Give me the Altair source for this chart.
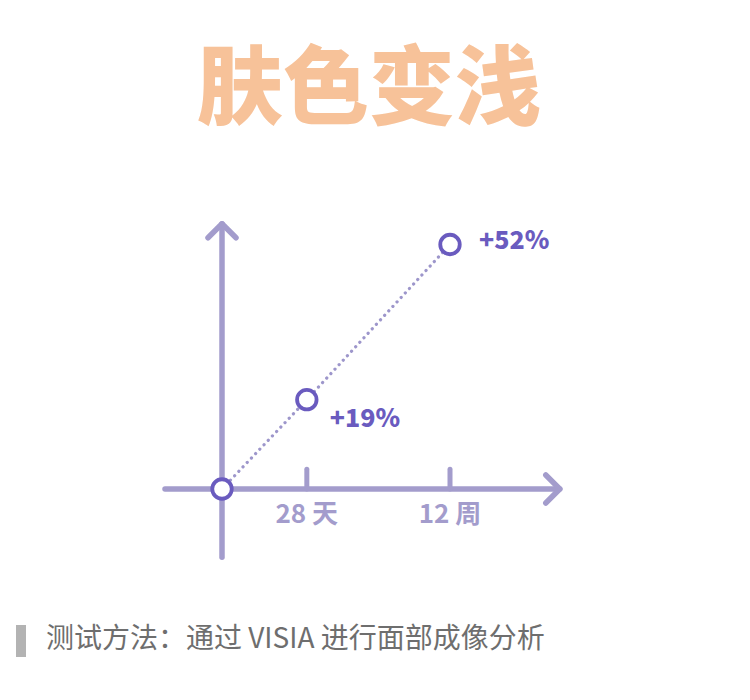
import altair as alt
import pandas as pd

# ---- data ----
stage_days = [0, 28, 84]          # x position (days)
stage_values = [0, 19, 52]        # % improvement
value_labels = ["", "+19%", "+52%"]
tick_days = [28, 84]
tick_labels = ["28 天", "12 周"]
title_text = "肤色变浅"
footer_text = "测试方法：通过 VISIA 进行面部成像分析"

# axis extents in data units
x_axis_ext = [-18, 130]
y_axis_ext = [-14.5, 56.4]
tick_height = 4.2

AXIS = "#a39ccc"
DOT = "#9d96cb"
RING = "#6a5bbf"
TITLE = "#f7c299"
FONT = "Noto Sans CJK SC"

pts = pd.DataFrame({"d": stage_days, "v": stage_values, "lab": value_labels})
ticks = pd.DataFrame({"d": tick_days, "lab": tick_labels, "v0": [0, 0], "v1": [tick_height] * 2})
xaxis_df = pd.DataFrame({"d0": [x_axis_ext[0]], "d1": [x_axis_ext[1]], "v": [0]})
yaxis_df = pd.DataFrame({"d": [0], "v0": [y_axis_ext[0]], "v1": [y_axis_ext[1]]})
xarrow_df = pd.DataFrame({"d": [x_axis_ext[1]], "v": [0]})
yarrow_df = pd.DataFrame({"d": [0], "v": [y_axis_ext[1]]})
text_df = pd.DataFrame({"t": [title_text], "f": [footer_text]})

xs = alt.Scale(type="pow", exponent=0.9, domain=[0, 84], range=[214, 442], zero=False, nice=False)
ys = alt.Scale(type="linear", domain=[0, 52], range=[481, 236.5], zero=False, nice=False)

X = lambda f: alt.X(f, type="quantitative", scale=xs, axis=None)
Y = lambda f: alt.Y(f, type="quantitative", scale=ys, axis=None)

x_axis = alt.Chart(xaxis_df).mark_rule(color=AXIS, strokeWidth=5.5, strokeCap="round").encode(
    x=X("d0"), x2="d1", y=Y("v"))
y_axis = alt.Chart(yaxis_df).mark_rule(color=AXIS, strokeWidth=5.5, strokeCap="round").encode(
    x=X("d"), y=Y("v0"), y2="v1")
tick_rules = alt.Chart(ticks).mark_rule(color=AXIS, strokeWidth=5, strokeCap="round").encode(
    x=X("d"), y=Y("v0"), y2="v1")
tick_text = alt.Chart(ticks).mark_text(
    color=AXIS, font=FONT, fontSize=26, fontWeight="bold", dy=26, baseline="middle", align="center"
).encode(x=X("d"), y=Y("v0"), text="lab")

x_arrow = alt.Chart(xarrow_df).mark_point(
    shape="M -1 -1 L 0 0 L -1 1", size=784, filled=False, fillOpacity=0,
    color=AXIS, strokeWidth=5.5, strokeCap="round", strokeJoin="round", opacity=1
).encode(x=X("d"), y=Y("v"))
y_arrow = alt.Chart(yarrow_df).mark_point(
    shape="M -1 1 L 0 0 L 1 1", size=784, filled=False, fillOpacity=0,
    color=AXIS, strokeWidth=5.5, strokeCap="round", strokeJoin="round", opacity=1
).encode(x=X("d"), y=Y("v"))

line = alt.Chart(pts).mark_line(
    color=DOT, strokeWidth=3.2, strokeDash=[0.1, 6], strokeCap="round"
).encode(x=X("d"), y=Y("v"), order="d:Q")

circles = alt.Chart(pts).mark_point(
    shape="circle", size=380, filled=True, fill="white", stroke=RING, strokeWidth=3.8, opacity=1
).encode(x=X("d"), y=Y("v"))

val_19 = alt.Chart(pts).transform_filter(alt.datum.v == 19).mark_text(
    color=RING, font=FONT, fontSize=25, fontWeight=900, align="left", baseline="middle", dx=23, dy=19
).encode(x=X("d"), y=Y("v"), text="lab")
val_52 = alt.Chart(pts).transform_filter(alt.datum.v == 52).mark_text(
    color=RING, font=FONT, fontSize=25, fontWeight=900, align="left", baseline="middle", dx=29, dy=-4
).encode(x=X("d"), y=Y("v"), text="lab")

title = alt.Chart(text_df).mark_text(
    color=TITLE, font=FONT, fontSize=86, fontWeight=900, align="center", baseline="middle"
).encode(x=alt.value(361), y=alt.value(84), text="t")

footer_bar = alt.Chart(text_df).mark_rect(color="#b3b3b3").encode(
    x=alt.value(8), x2=alt.value(18), y=alt.value(617), y2=alt.value(649))
footer = alt.Chart(text_df).mark_text(
    color="#6e6e6e", font=FONT, fontSize=28, align="left", baseline="middle"
).encode(x=alt.value(38), y=alt.value(632), text="f")

chart = alt.layer(
    x_axis, y_axis, tick_rules, tick_text, x_arrow, y_arrow, line, circles,
    val_19, val_52, title, footer_bar, footer
).properties(
    width=734, height=684, autosize=alt.AutoSizeParams(type="none"), padding=0, background="white"
).configure_view(stroke=None)

chart.save("out.html", embed_options={"renderer": "svg", "actions": False})
